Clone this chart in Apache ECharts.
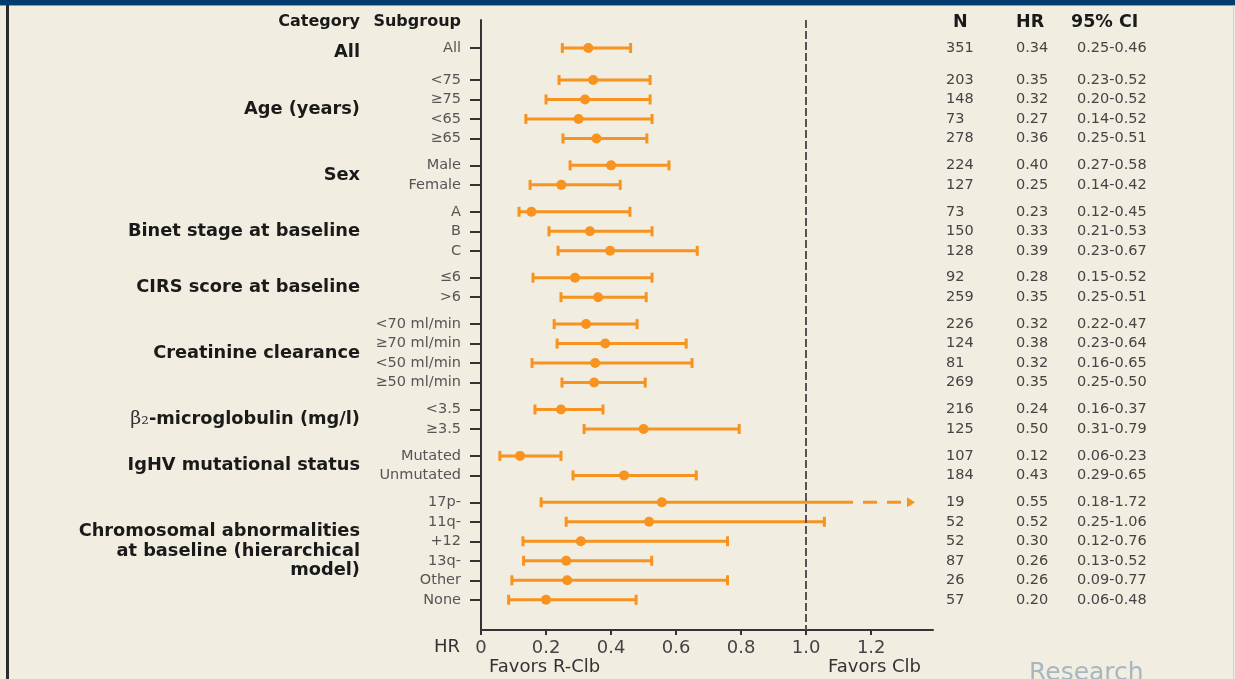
<!DOCTYPE html>
<html>
<head>
<meta charset="utf-8">
<script src="https://cdn.jsdelivr.net/npm/echarts@6/dist/echarts.min.js"></script>
<style>html,body{margin:0;padding:0;background:#f1ede0;}#c{width:1235px;height:679px;}</style>
</head>
<body>
<div id="c"></div>
<script>
// ---------- DATA ----------
const subgroups = ['All','<75','≥75','<65','≥65','Male','Female','A','B','C','≤6','>6',
  '<70 ml/min','≥70 ml/min','<50 ml/min','≥50 ml/min','<3.5','≥3.5','Mutated','Unmutated',
  '17p-','11q-','+12','13q-','Other','None'];
const groupIndex = [0,1,1,1,1,2,2,3,3,3,4,4,5,5,5,5,6,6,7,7,8,8,8,8,8,8];
const categories = ['All','Age (years)','Sex','Binet stage at baseline','CIRS score at baseline',
  'Creatinine clearance','β₂-microglobulin (mg/l)','IgHV mutational status',
  'Chromosomal abnormalities\nat baseline (hierarchical\nmodel)'];
const nText = ['351','203','148','73','278','224','127','73','150','128','92','259','226','124','81','269','216','125','107','184','19','52','52','87','26','57'];
const hrText = ['0.34','0.35','0.32','0.27','0.36','0.40','0.25','0.23','0.33','0.39','0.28','0.35','0.32','0.38','0.32','0.35','0.24','0.50','0.12','0.43','0.55','0.52','0.30','0.26','0.26','0.20'];
const ciText = ['0.25-0.46','0.23-0.52','0.20-0.52','0.14-0.52','0.25-0.51','0.27-0.58','0.14-0.42','0.12-0.45','0.21-0.53','0.23-0.67','0.15-0.52','0.25-0.51','0.22-0.47','0.23-0.64','0.16-0.65','0.25-0.50','0.16-0.37','0.31-0.79','0.06-0.23','0.29-0.65','0.18-1.72','0.25-1.06','0.12-0.76','0.13-0.52','0.09-0.77','0.06-0.48'];
// plotted values (as drawn in the figure)
const hrPlot  = [0.33,0.345,0.32,0.30,0.355,0.40,0.247,0.155,0.335,0.397,0.289,0.36,0.323,0.382,0.351,0.348,0.246,0.50,0.12,0.44,0.556,0.517,0.307,0.262,0.265,0.20];
const ciLow   = [0.25,0.24,0.20,0.138,0.252,0.274,0.151,0.117,0.209,0.237,0.16,0.246,0.225,0.234,0.157,0.249,0.166,0.317,0.058,0.283,0.185,0.262,0.129,0.131,0.095,0.085];
const ciHigh  = [0.46,0.52,0.52,0.526,0.51,0.578,0.428,0.458,0.526,0.665,0.526,0.508,0.48,0.631,0.649,0.505,0.375,0.794,0.246,0.662,1.72,1.056,0.758,0.525,0.758,0.477];
const xTickValues = [0,0.2,0.4,0.6,0.8,1.0,1.2];
const xTickLabels = ['0','0.2','0.4','0.6','0.8','1.0','1.2'];
const headerLabels = ['Category','Subgroup','N','HR','95% CI'];
const refValue = 1.0;

// ---------- LAYOUT / STYLE ----------
const ORANGE = '#f7931e';
const FONT = 'DejaVu Sans';
const X_MAX = 1.39;
const SOLID_END = 1.144;
const GROUP_GAP = 1.38, FIRST_GAP = 1.64;
const HEADER_POS = -1.33;
const Y_MIN = -1.436, Y_MAX = 29.85;

const pos = [];
subgroups.forEach((s, i) => {
  if (i === 0) pos.push(0);
  else if (groupIndex[i] !== groupIndex[i-1]) pos.push(pos[i-1] + (groupIndex[i-1] === 0 ? FIRST_GAP : GROUP_GAP));
  else pos.push(pos[i-1] + 1);
});
const groupCenters = categories.map((c, g) => {
  const ps = pos.filter((p, i) => groupIndex[i] === g);
  return ps.reduce((a, b) => a + b, 0) / ps.length + (g === 0 ? 0.25 : 0);
});

function findIdx(arr, v) { return arr.findIndex(p => Math.abs(p - v) < 1e-6); }

function yAxisBase(extra) {
  return Object.assign({
    type: 'value', inverse: true, min: Y_MIN, max: Y_MAX,
    splitLine: {show: false}, axisLine: {show: false, onZero: false}, axisTick: {show: false}
  }, extra);
}

const catRich = {
  h: {fontFamily: FONT, fontWeight: 'bold', fontSize: 16, color: '#1a1a1a'},
  c: {fontFamily: FONT, fontWeight: 'bold', fontSize: 17.8, color: '#1a1a1a', lineHeight: 19.5, align: 'right'},
  g: {fontFamily: 'DejaVu Serif', fontWeight: 'normal', fontSize: 19, color: '#333'}
};

const data = subgroups.map((s, i) => [pos[i], ciLow[i], ciHigh[i], hrPlot[i]]);

function renderItem(params, api) {
  const y = api.value(0), lo = api.value(1), hi = api.value(2), hr = api.value(3);
  const clipped = hi > X_MAX;
  const pLo = api.coord([lo, y]);
  const pHi = api.coord([clipped ? SOLID_END : hi, y]);
  const pHr = api.coord([hr, y]);
  const st = {stroke: ORANGE, lineWidth: 3};
  const ch = [
    {type: 'line', shape: {x1: pLo[0], y1: pLo[1], x2: pHi[0], y2: pHi[1]}, style: st},
    {type: 'line', shape: {x1: pLo[0], y1: pLo[1]-5, x2: pLo[0], y2: pLo[1]+5}, style: st}
  ];
  if (!clipped) {
    ch.push({type: 'line', shape: {x1: pHi[0], y1: pHi[1]-5, x2: pHi[0], y2: pHi[1]+5}, style: st});
  } else {
    ch.push({type: 'line', shape: {x1: pHi[0]+10, y1: pHi[1], x2: pHi[0]+48, y2: pHi[1]},
      style: {stroke: ORANGE, lineWidth: 3, lineDash: [14, 10]}});
    ch.push({type: 'polygon', shape: {points: [[pHi[0]+54, pHi[1]-5], [pHi[0]+62, pHi[1]], [pHi[0]+54, pHi[1]+5]]},
      style: {fill: ORANGE}});
  }
  ch.push({type: 'circle', shape: {cx: pHr[0], cy: pHr[1], r: 5}, style: {fill: ORANGE}});
  return {type: 'group', children: ch};
}

const chart = echarts.init(document.getElementById('c'), null, {renderer: 'canvas'});
const subLabelVals = [HEADER_POS].concat(pos);
const catLabelVals = [HEADER_POS].concat(groupCenters);

const option = {
  backgroundColor: '#f1ede0',
  animation: false,
  textStyle: {fontFamily: FONT},
  grid: {left: 481, right: 302, top: 20, bottom: 49, outerBoundsMode: 'none'},
  xAxis: {
    type: 'value', min: 0, max: X_MAX,
    splitLine: {show: false},
    axisLine: {show: true, onZero: false, lineStyle: {color: '#333', width: 2}},
    axisTick: {show: true, customValues: xTickValues, length: 5, lineStyle: {color: '#333', width: 2}},
    axisLabel: {customValues: xTickValues, margin: 9, fontFamily: FONT, fontSize: 18, color: '#444',
      formatter: v => xTickLabels[findIdx(xTickValues, v)]}
  },
  yAxis: [
    yAxisBase({
      position: 'left',
      axisLine: {show: true, onZero: false, lineStyle: {color: '#333', width: 2}},
      axisTick: {show: true, customValues: pos, length: 11, lineStyle: {color: '#333', width: 2}},
      axisLabel: {customValues: subLabelVals, margin: 20, fontFamily: FONT, fontSize: 14.5, color: '#555',
        formatter: v => { const i = findIdx(subLabelVals, v); return i === 0 ? '{h|' + headerLabels[1] + '}' : subgroups[i-1]; },
        rich: {h: {fontFamily: FONT, fontWeight: 'bold', fontSize: 16, color: '#1a1a1a'}}}
    }),
    yAxisBase({
      position: 'left',
      axisLabel: {customValues: catLabelVals, margin: 121, align: 'right', rich: catRich,
        formatter: v => {
          const i = findIdx(catLabelVals, v);
          if (i === 0) return '{h|' + headerLabels[0] + '}';
          const t = categories[i-1];
          if (t.startsWith('β₂')) return '{g|β₂}{c|' + t.slice(2) + '}';
          return t.split('\n').map(l => '{c|' + l + '}').join('\n');
        }}
    }),
    yAxisBase({
      position: 'right',
      axisLabel: {customValues: subLabelVals, margin: 13, align: 'left', fontFamily: FONT, fontSize: 14.5, color: '#444',
        formatter: v => { const i = findIdx(subLabelVals, v); return i === 0 ? '{h|' + headerLabels[2] + '}' : nText[i-1]; },
        rich: {h: {fontFamily: FONT, fontWeight: 'bold', fontSize: 17.5, color: '#1a1a1a', padding: [0,0,0,7]}}}
    }),
    yAxisBase({
      position: 'right',
      axisLabel: {customValues: subLabelVals, margin: 83, align: 'left', fontFamily: FONT, fontSize: 14.5, color: '#444',
        formatter: v => { const i = findIdx(subLabelVals, v); return i === 0 ? '{h|' + headerLabels[3] + '}' : hrText[i-1]; },
        rich: {h: {fontFamily: FONT, fontWeight: 'bold', fontSize: 17.5, color: '#1a1a1a'}}}
    }),
    yAxisBase({
      position: 'right',
      axisLabel: {customValues: subLabelVals, margin: 138, align: 'left', fontFamily: FONT, fontSize: 14.5, color: '#444',
        formatter: v => { const i = findIdx(subLabelVals, v); return i === 0 ? '{h|' + headerLabels[4] + '}' : '{v|' + ciText[i-1] + '}'; },
        rich: {h: {fontFamily: FONT, fontWeight: 'bold', fontSize: 17.5, color: '#1a1a1a'},
               v: {fontFamily: FONT, fontSize: 14.5, color: '#444', padding: [0,0,0,6]}}}
    })
  ],
  series: [
    {
      type: 'custom', name: 'HR', xAxisIndex: 0, yAxisIndex: 0,
      encode: {x: [1, 2, 3], y: 0},
      renderItem: renderItem, data: data, clip: false
    },
    {
      type: 'line', xAxisIndex: 0, yAxisIndex: 0, data: [], silent: true,
      markLine: {silent: true, symbol: ['none', 'none'], label: {show: false},
        lineStyle: {color: '#555', width: 2, type: [8, 3]},
        data: [{xAxis: refValue}]}
    }
  ]
};
chart.setOption(option);

// annotations anchored to the axis scale
const p0 = chart.convertToPixel({xAxisIndex: 0, yAxisIndex: 0}, [0, Y_MAX]);
const p1 = chart.convertToPixel({xAxisIndex: 0, yAxisIndex: 0}, [X_MAX, Y_MAX]);
chart.setOption({
  graphic: [
    {type: 'rect', shape: {x: 0, y: 0, width: 1235, height: 5}, style: {fill: '#003c6e'}, z: 100},
    {type: 'rect', shape: {x: 0, y: 5, width: 1235, height: 1}, style: {fill: '#7d9dbb'}, z: 100},
    {type: 'rect', shape: {x: 6, y: 5, width: 3, height: 674}, style: {fill: '#2b2b2b'}, z: 100},
    {type: 'rect', shape: {x: 1233, y: 5, width: 1, height: 674}, style: {fill: '#d6d2c6'}, z: 100},
    {type: 'text', x: p0[0] - 21, y: p0[1] + 17, style: {text: 'HR', fontFamily: FONT, fontSize: 18, fill: '#333', align: 'right', verticalAlign: 'middle'}},
    {type: 'text', x: p0[0] + 8, y: p0[1] + 37, style: {text: 'Favors R-Clb', fontFamily: FONT, fontSize: 18, fill: '#333', align: 'left', verticalAlign: 'middle'}},
    {type: 'text', x: p1[0] - 12, y: p0[1] + 37, style: {text: 'Favors Clb', fontFamily: FONT, fontSize: 18, fill: '#333', align: 'right', verticalAlign: 'middle'}},
    {type: 'text', x: 1029, y: 661, style: {text: 'Research', fontFamily: FONT, fontSize: 25, fill: '#a7b7c1', align: 'left', verticalAlign: 'top'}}
  ]
});
</script>
</body>
</html>
